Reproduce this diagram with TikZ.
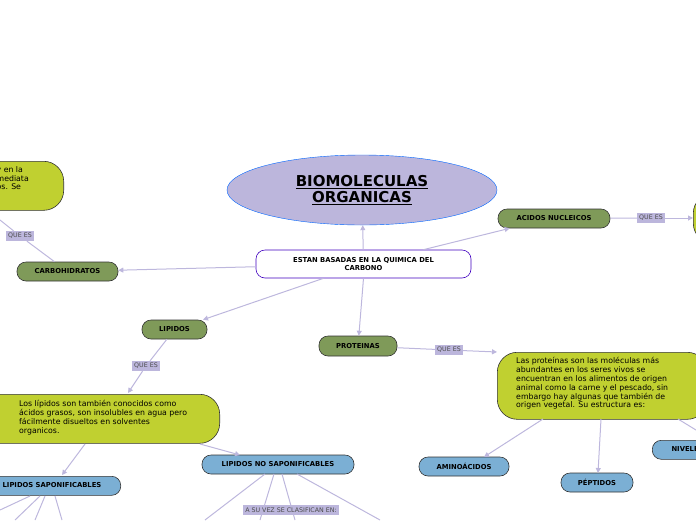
\documentclass[tikz,border=0pt]{standalone}
\usepackage{fontspec}
\setmainfont{DejaVu Sans}
\usetikzlibrary{arrows.meta,shapes.geometric}
\definecolor{edge}{HTML}{BDB7DD}
\definecolor{lav}{HTML}{BCB6DC}
\definecolor{olive}{HTML}{7F9A59}
\definecolor{lime}{HTML}{C0D030}
\definecolor{sky}{HTML}{7BAFD4}
\tikzset{
 box/.style={draw=black!80,line width=0.6pt,rounded corners=9pt,font=\fontsize{6.8}{7.5}\selectfont\bfseries,inner sep=0pt,anchor=north west},
 gbox/.style={box,fill=olive},
 bbox/.style={box,fill=sky},
 ybox/.style={draw=black!80,line width=0.6pt,rounded corners=20pt,fill=lime,anchor=north west},
 lab/.style={fill=lav,font=\fontsize{6.3}{7}\selectfont,text=black!70,inner sep=2.2pt},
 con/.style={draw=edge,line width=1pt},
 arr/.style={con,-{Triangle[length=5pt,width=5pt]}},
 para/.style={font=\fontsize{7.8}{8.9}\selectfont,align=left,anchor=north west,inner sep=0pt}
}
\begin{document}
\begin{tikzpicture}[x=1pt,y=-1pt]
\useasboundingbox (0,0) rectangle (696,520);
\clip (0,0) rectangle (696,520);
% title
\node[ellipse,draw=blue!60!cyan,fill=lav,minimum width=270pt,minimum height=70pt,inner sep=0pt] (title) at (362,190) {};
\node[font=\fontsize{15}{16}\selectfont\bfseries,align=center] at (362,190) {\underline{BIOMOLECULAS}\\\underline{ORGANICAS}};
% base
\node[box,draw=blue!50!violet,fill=white,minimum width=215pt,minimum height=28pt,align=center,anchor=center] (base) at (363.5,264) {ESTAN BASADAS EN LA QUIMICA DEL\\CARBONO};
% green nodes
\node[gbox,minimum width=112pt,minimum height=19pt,anchor=center] (an) at (554,218.5) {ACIDOS NUCLEICOS};
\node[gbox,minimum width=101pt,minimum height=19pt,anchor=center] (ch) at (67.5,271.5) {CARBOHIDRATOS};
\node[gbox,minimum width=65pt,minimum height=19pt,anchor=center] (li) at (174.5,329.5) {LIPIDOS};
\node[gbox,minimum width=78pt,minimum height=20pt,anchor=center] (pr) at (358,346) {PROTEINAS};
% yellow nodes
\node[ybox,minimum width=214pt,minimum height=49pt,anchor=north east] (chd) at (64,161) {};
\node[para,anchor=north east] at (29,166) {y en la\\mediata\\os. Se};
\node[ybox,minimum width=40pt,minimum height=50pt] (and) at (693,193) {};
\node[ybox,minimum width=260pt,minimum height=49pt,anchor=north east] (lid) at (220,394) {};
\node[para] at (19,400) {Los lípidos son también conocidos como\\ácidos grasos, son insolubles en agua pero\\fácilmente disueltos en solventes\\organicos.};
\node[ybox,minimum width=210pt,minimum height=67pt] (prd) at (497,352) {};
\node[para] at (516,357) {Las proteínas son las moléculas más\\abundantes en los seres vivos se\\encuentran en los alimentos de origen\\animal como la carne y el pescado, sin\\embargo hay algunas que también de\\origen vegetal. Su estructura es:};
% blue nodes
\node[bbox,minimum width=160pt,minimum height=19pt,anchor=north east] (ls) at (121,476) {};
\node[font=\fontsize{6.8}{7.5}\selectfont\bfseries] at (52,485.5) {LIPIDOS SAPONIFICABLES};
\node[bbox,minimum width=152pt,minimum height=19pt,anchor=center] (lns) at (278,464.5) {LIPIDOS NO SAPONIFICABLES};
\node[bbox,minimum width=90pt,minimum height=19pt,anchor=center] (am) at (464,466.5) {AMINOÁCIDOS};
\node[bbox,minimum width=72pt,minimum height=19pt,anchor=center] (pe) at (597,482.5) {PÉPTIDOS};
\node[bbox,minimum width=90pt,minimum height=19pt] (ni) at (652,440) {};
\node[font=\fontsize{6.8}{7.5}\selectfont\bfseries,anchor=west] at (668,449.5) {NIVELES};
% connectors
\draw[arr] (base) -- (title);
\draw[arr] ([xshift=-48pt]base.north east) -- ([xshift=12pt]an.south west);
\draw[arr] (base) -- (ch);
\draw[arr] ([xshift=-40pt]base.south) -- (li);
\draw[arr] (base.south) -- (pr);
\node[lab] (q1) at (651,218) {QUE ES};
\draw[con] (an) -- (q1);
\draw[arr] (q1) -- (and.west|-q1);
\node[lab] (q2) at (20,236) {QUE ES};
\draw[con] ([xshift=-13pt]ch.north) -- (q2);
\draw[con] (q2) -- (0,220);
\node[lab] (q3) at (146,366) {QUE ES};
\draw[con] (li) -- (q3);
\draw[arr] (q3) -- (128,393);
\node[lab] (q4) at (449,350) {QUE ES};
\draw[con] (pr) -- (q4);
\draw[arr] (q4) -- (prd.north west);
\draw[arr] (85,444) -- (62,475);
\draw[arr] (200,444) -- (240,455);
\draw[arr] (543,419) -- (484,457);
\draw[arr] (601,419) -- (598,473);
\draw[con] (678,419) -- (696,430);
\draw[con] (30,496) -- (0,510);
\draw[con] (40,496) -- (15,520);
\draw[con] (45,496) -- (35,520);
\draw[con] (55,496) -- (62,520);
\draw[con] (265,474) -- (205,520);
\draw[con] (274,474) -- (260,520);
\draw[con] (282,474) -- (295,520);
\draw[con] (297,474) -- (380,520);
\node[lab] at (291,510) {A SU VEZ SE CLASIFICAN EN:};
\end{tikzpicture}
\end{document}
